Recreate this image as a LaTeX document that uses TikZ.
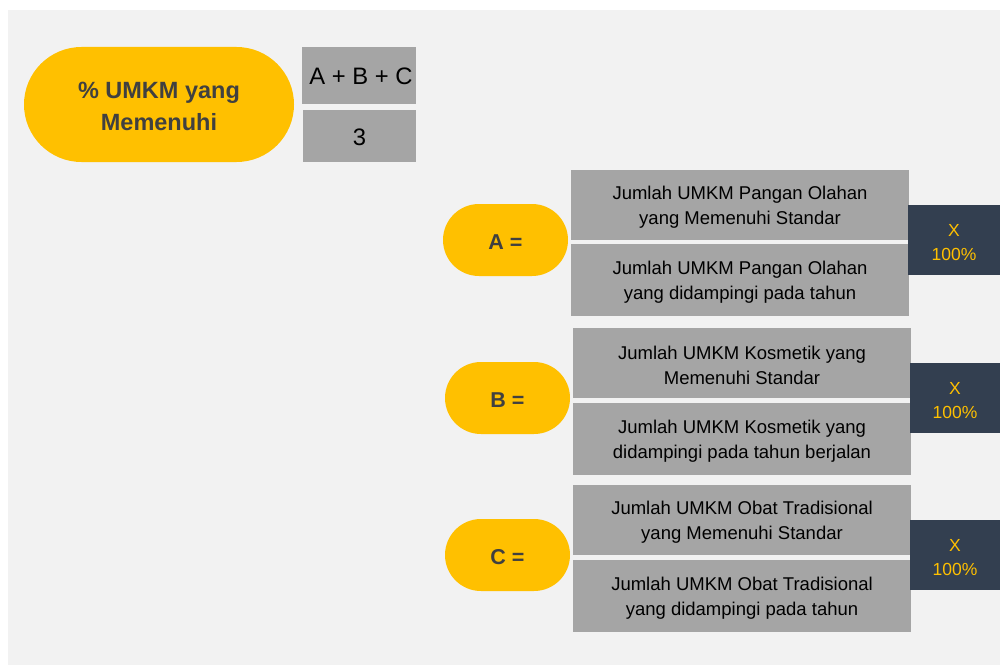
\documentclass[tikz,border=0pt]{standalone}
\usepackage{fontspec}
\setmainfont{Liberation Sans}
\usetikzlibrary{shapes.misc}
\definecolor{bgc}{HTML}{F2F2F2}
\definecolor{pillc}{HTML}{FFC000}
\definecolor{boxc}{HTML}{A5A5A5}
\definecolor{darkc}{HTML}{333F50}
\definecolor{txtc}{HTML}{404040}
\tikzset{
  pill/.style={rounded rectangle, fill=pillc, inner sep=0pt},
  bigpill/.style={pill, minimum width=270pt, minimum height=115pt},
  smallpill/.style={pill, minimum width=125pt, minimum height=72pt},
  graybox/.style={rectangle, fill=boxc, inner sep=0pt},
  fracbox/.style={graybox, minimum width=338pt},
  mulbox/.style={rectangle, fill=darkc, inner sep=0pt, minimum height=70pt},
  txt/.style={inner sep=0pt, align=center, yshift=-2.5pt},
  pilltxt/.style={txt, text=txtc, font=\fontsize{21.5}{24}\selectfont\bfseries},
  bigtxt/.style={txt, yshift=1pt, text=txtc, font=\fontsize{23.5}{32}\selectfont\bfseries},
  fractxt/.style={txt, text=black, font=\fontsize{18.5}{25}\selectfont},
  multxt/.style={txt, text=pillc, font=\fontsize{17.5}{24}\selectfont},
  eqtxt/.style={txt, yshift=1.5pt, text=black, font=\fontsize{23.8}{28}\selectfont},
}
\begin{document}
\begin{tikzpicture}[x=1pt,y=-1pt]
\useasboundingbox (0,0) rectangle (1000,666);
\fill[bgc] (8,10) rectangle (1000,665);
% main
\node[bigpill] (main) at (159,104.5) {};
\node[bigtxt] (maint) at (main.center) {\% UMKM yang\\Memenuhi};
\node[graybox, minimum width=114pt, minimum height=57pt] (num) at (359,75.5) {};
\node[eqtxt] (numt) at ([xshift=2pt]num.center) {A + B + C};
\node[graybox, minimum width=113pt, minimum height=52pt] (den) at (359.5,136) {};
\node[eqtxt] (dent) at (den.center) {3};
% A
\node[smallpill] (pa) at (505.5,240) {};
\node[pilltxt] (pat) at (pa.center) {A =};
\node[fracbox, minimum height=70pt] (atop) at (740,205) {};
\node[fractxt] (atopt) at (atop.center) {Jumlah UMKM Pangan Olahan\\yang Memenuhi Standar};
\node[fracbox, minimum height=72pt] (abot) at (740,280) {};
\node[fractxt] (abott) at (abot.center) {Jumlah UMKM Pangan Olahan\\yang didampingi pada tahun};
\node[mulbox, minimum width=92pt] (xa) at (954,240) {};
\node[multxt] (xat) at (xa.center) {X\\100\%};
% B
\node[smallpill] (pb) at (507.5,398) {};
\node[pilltxt] (pbt) at (pb.center) {B =};
\node[fracbox, minimum height=70pt] (btop) at (742,363) {};
\node[fractxt] (btopt) at (btop.center) {Jumlah UMKM Kosmetik yang\\Memenuhi Standar};
\node[fracbox, minimum height=72pt] (bbot) at (742,439) {};
\node[fractxt] (bbott) at (bbot.center) {Jumlah UMKM Kosmetik yang\\didampingi pada tahun berjalan};
\node[mulbox, minimum width=90pt] (xb) at (955,398) {};
\node[multxt] (xbt) at (xb.center) {X\\100\%};
% C
\node[smallpill] (pc) at (507.5,555) {};
\node[pilltxt] (pct) at (pc.center) {C =};
\node[fracbox, minimum height=70pt] (ctop) at (742,520) {};
\node[fractxt] (ctopt) at (ctop.center) {Jumlah UMKM Obat Tradisional\\yang Memenuhi Standar};
\node[fracbox, minimum height=72pt] (cbot) at (742,596) {};
\node[fractxt] (cbott) at (cbot.center) {Jumlah UMKM Obat Tradisional\\yang didampingi pada tahun};
\node[mulbox, minimum width=90pt] (xc) at (955,555) {};
\node[multxt] (xct) at (xc.center) {X\\100\%};
\end{tikzpicture}
\end{document}
